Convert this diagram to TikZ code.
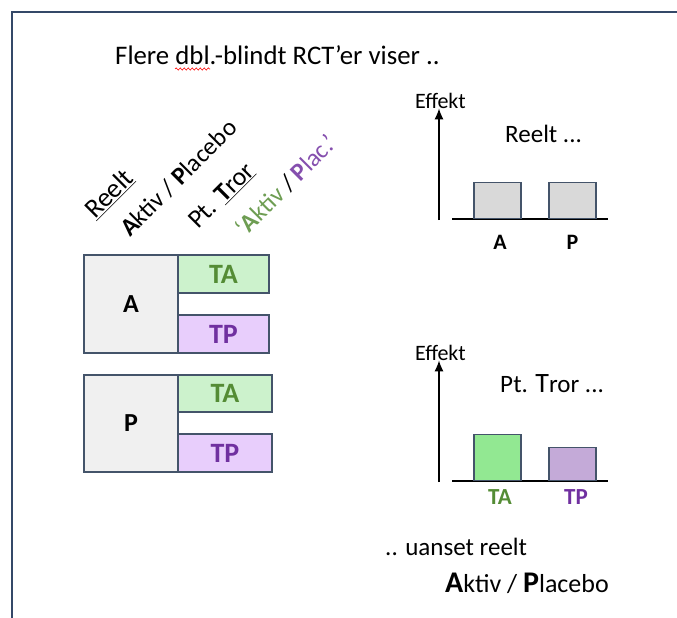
\documentclass[tikz,border=0pt]{standalone}
\usepackage{fontspec}
\setmainfont{Carlito}
\usetikzlibrary{arrows.meta,positioning,decorations.pathmorphing}
\definecolor{frame}{RGB}{52,72,104}
\definecolor{slate}{RGB}{68,84,106}
\definecolor{boxgray}{RGB}{240,240,240}
\definecolor{bargray}{RGB}{217,217,217}
\definecolor{palegreen}{RGB}{204,242,204}
\definecolor{palelilac}{RGB}{232,206,252}
\definecolor{bargreen}{RGB}{146,232,146}
\definecolor{barlilac}{RGB}{196,170,216}
\definecolor{leaf}{RGB}{84,140,53}
\definecolor{grape}{RGB}{112,48,160}
\newcommand{\fsz}[1]{\fontsize{#1}{#1}\selectfont}

\tikzset{
  frameline/.style={draw=frame,line width=2pt},
  armbox/.style={draw=slate,line width=1.3pt,fill=boxgray,minimum width=94pt,inner sep=0pt,font=\fsz{26}\bfseries},
  tabox/.style={draw=slate,line width=1.3pt,fill=palegreen,text=leaf,inner sep=0pt,font=\fsz{28}\bfseries},
  tpbox/.style={draw=slate,line width=1.3pt,fill=palelilac,text=grape,inner sep=0pt,font=\fsz{28}\bfseries},
  bar/.style={draw=slate,line width=1.3pt,anchor=south,minimum width=47pt,inner sep=0pt},
  axis/.style={-{Latex[length=11pt,width=9pt]},line width=1.4pt},
  groundline/.style={line width=1.4pt},
  rotlabel/.style={rotate=45,anchor=base west,inner sep=0pt,font=\fsz{25}},
  plain/.style={anchor=base west,inner sep=0pt,font=\fsz{25}}
}

\begin{document}
\begin{tikzpicture}[x=1pt,y=-1pt]
  \useasboundingbox (0,0) rectangle (677,618);
  \draw[frameline] (12,618) -- (12,12) -- (677,12);

  % title
  \node[plain,font=\fsz{26.8}] (title) at (115,64) {Flere dbl.-blindt RCT’er viser ..};
  \draw[red,line width=0.6pt,decorate,decoration={snake,amplitude=1.1pt,segment length=4pt}] (175,69) -- (210,69);

  % rotated column heads
  \node[rotlabel,font=\fsz{27}] (reelt) at (95,220) {\underline{Reelt}};
  \node[rotlabel] (aktiv) at (130,238) {\textbf{A}ktiv / \textbf{P}lacebo};
  \node[rotlabel,font=\fsz{26}] (pttror) at (198,230) {Pt. \underline{\textbf{T}ror}};
  \node[rotlabel] (tror) at (245,238) {\textcolor{leaf!85!white}{‘\textbf{A}ktiv} / \textcolor{grape!85!white}{\textbf{P}lac.’}};

  % arms
  \node[armbox,minimum height=98pt] (armA) at (131,304) {A};
  \node[tabox,minimum width=91pt,minimum height=38pt] (taA) at (223.5,274) {TA};
  \node[tpbox,minimum width=91pt,minimum height=38pt] (tpA) at (223.5,334) {TP};
  \node[armbox,minimum height=97pt] (armP) at (131,423.5) {P};
  \node[tabox,minimum width=94pt,minimum height=37pt] (taP) at (225,393.5) {TA};
  \node[tpbox,minimum width=94pt,minimum height=38pt] (tpP) at (225,453) {TP};

  % chart: reelt
  \node[plain,font=\fsz{22}] (effA) at (415,108) {Effekt};
  \coordinate (orgA) at (439,220);
  \draw[axis] (orgA) -- (orgA |- effA.south);
  \draw[groundline] (452,219) -- (608,219);
  \node[bar,fill=bargray,minimum height=36pt] (barA) at (497.5,219) {};
  \node[bar,fill=bargray,minimum height=36pt] (barP) at (572.5,219) {};
  \node[font=\fsz{22}\bfseries] (labA) at (500,242) {A};
  \node[font=\fsz{22}\bfseries] (labP) at (572.5,242) {P};
  \node[plain] (reeltcap) at (505,142) {Reelt ...};

  % chart: pt. tror
  \node[plain,font=\fsz{22}] (effT) at (415,360) {Effekt};
  \coordinate (orgT) at (439,482);
  \draw[axis] (orgT) -- (orgT |- effT.south);
  \draw[groundline] (452,481) -- (608,481);
  \node[bar,fill=bargreen,minimum height=46pt] (barTA) at (497.5,481) {};
  \node[bar,fill=barlilac,minimum height=33pt] (barTP) at (572.5,481) {};
  \node[font=\fsz{23}\bfseries,text=leaf] (labTA) at (500,497) {TA};
  \node[font=\fsz{23}\bfseries,text=grape] (labTP) at (576,497) {TP};
  \node[plain] (trorcap) at (500,392) {Pt. {\fsz{28}T}ror ...};

  % conclusion
  \node[plain] (uanset) at (385,555) {.. uanset reelt};
  \node[plain,font=\fsz{26}] (konkl) at (445,592) {{\fsz{30}\bfseries A}ktiv / {\fsz{30}\bfseries P}lacebo};
\end{tikzpicture}
\end{document}
